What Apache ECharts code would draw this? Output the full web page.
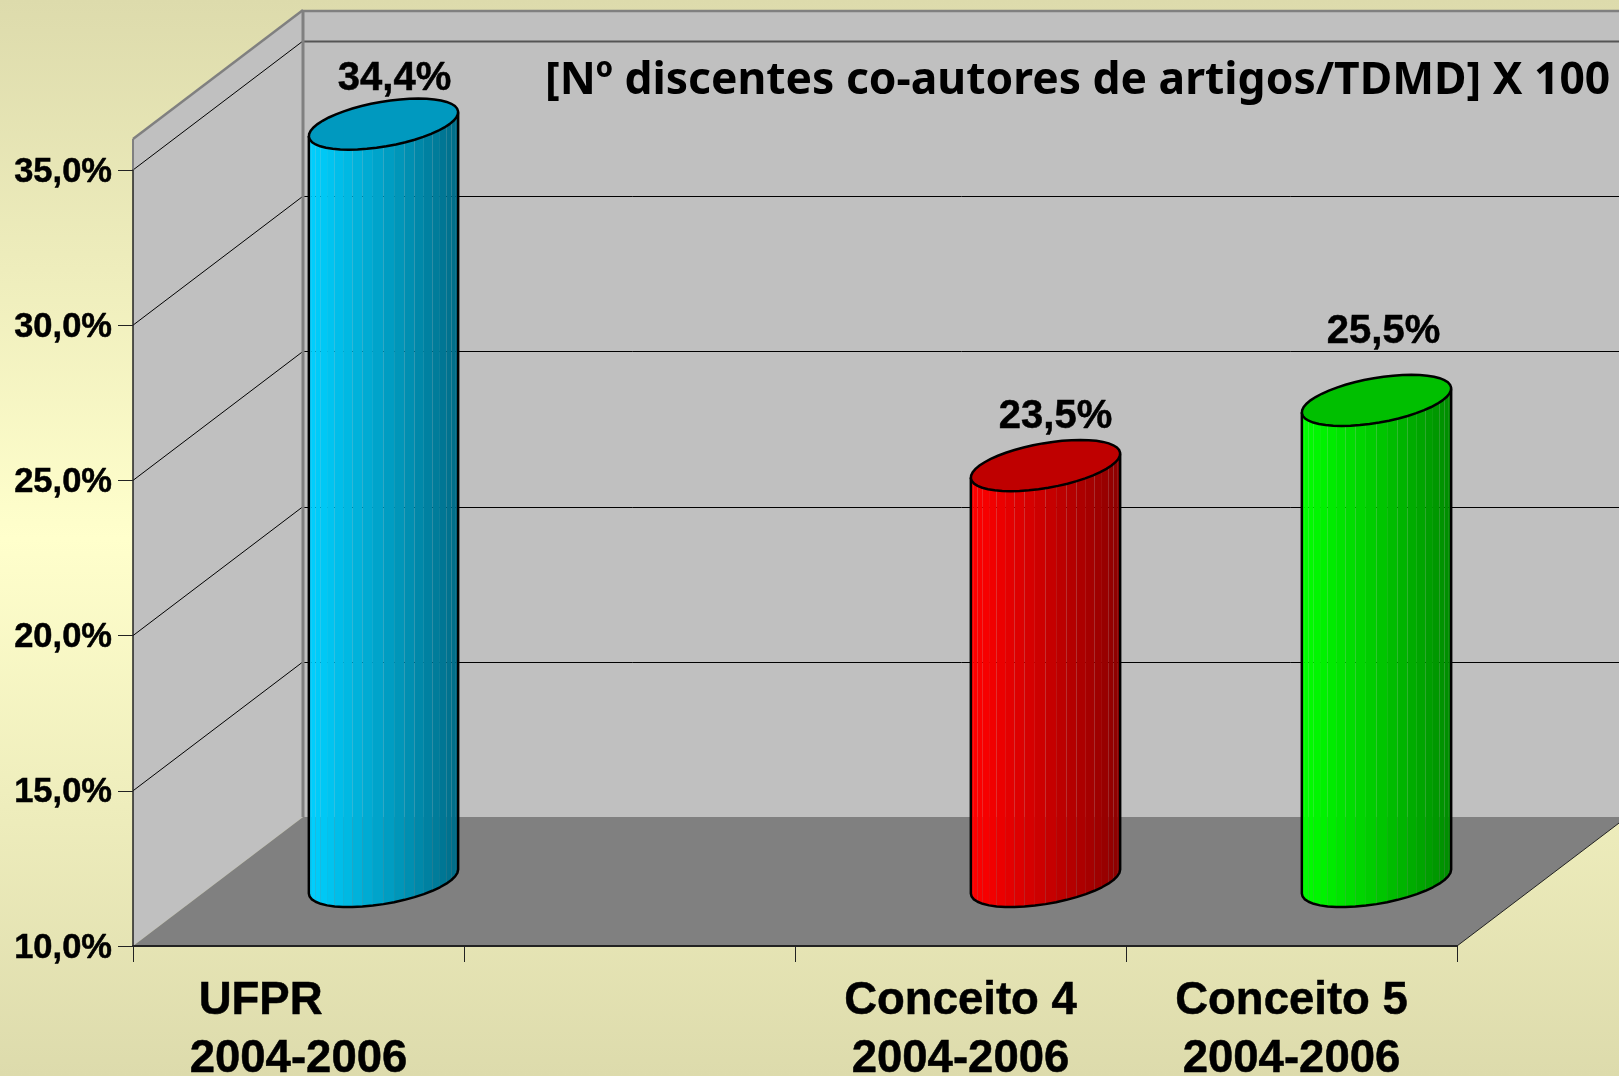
<!DOCTYPE html>
<html><head><meta charset="utf-8">
<style>html,body{margin:0;padding:0;background:#eee}#c{width:1619px;height:1076px}</style>
<script src="https://cdn.jsdelivr.net/npm/echarts@6/dist/echarts.min.js"></script>
</head><body><div id="c"></div>
<script>
const categories = ['UFPR      \n2004-2006', '', 'Conceito 4\n2004-2006', 'Conceito 5\n2004-2006'];
const barValues = [34.4, null, 23.4, 25.5];
const valueLabels = ['34,4%', '', '23,5%', '25,5%'];
const wallLines = [15, 20, 25, 30, 35];
const chartTitle = '[Nº discentes co-autores de artigos/TDMD] X 100';
const yMin = 10, yMax = 35, yStep = 5, wallTop = 36;

const palette = [
  {l:[0,208,255], r:[0,106,133], cap:'#0099BF'},
  null,
  {l:[255,0,0], r:[138,0,0], cap:'#BF0000'},
  {l:[0,255,0], r:[0,138,0], cap:'#00BF00'}
];
const labelNudge = [[11,-45], null, [10,-49], [7,-68]];
const DX = 170, DY = 129;      // depth of the 3-D box in px
const A = 66, S = 34.9, H = 25.6; // cylinder ellipse shape

function renderBox(params, api){
  const cs = params.coordSys;
  const xL = cs.x, xR = cs.x + cs.width;
  const y = v => api.coord([0, v])[1];
  const y0 = y(yMin), yT = y(wallTop);
  const poly = (pts, fill) => ({type:'polygon', shape:{points:pts}, style:{fill, stroke:null}, silent:true});
  const line = (x1,y1,x2,y2,c,w) => ({type:'line', shape:{x1,y1,x2,y2}, style:{stroke:c, lineWidth:w}, silent:true});
  const ch = [
    poly([[xL+DX,yT-DY],[xR+DX,yT-DY],[xR+DX,y0-DY],[xL+DX,y0-DY]], '#C0C0C0'),
    poly([[xL,yT],[xL+DX,yT-DY],[xL+DX,y0-DY],[xL,y0]], '#C0C0C0'),
    poly([[xL,y0],[xR,y0],[xR+DX,y0-DY],[xL+DX,y0-DY]], '#808080')
  ];
  wallLines.forEach(v => {
    const yy = y(v);
    const top = v === yMax;
    const yb = Math.round(yy-DY)+0.5;
    ch.push(line(xL+DX, yb, xR+DX, yb, top ? '#555' : '#000', top ? 2 : 1));
    ch.push(line(xL, yy, xL+DX, yy-DY, '#000', 1));
  });
  ch.push(line(xL, yT, xL, y(yMax), '#808080', 2));
  ch.push(line(xL, yT, xL+DX, yT-DY, '#808080', 2.5));
  ch.push(line(xL+DX, yT-DY+1, xR+DX, yT-DY+1, '#808080', 2.5));
  ch.push(line(xL+DX, yT-DY, xL+DX, y0-DY, '#808080', 3));
  ch.push(line(xR, y0, xR+DX, y0-DY, '#222', 1));
  return {type:'group', children:ch};
}

function renderCylinder(params, api){
  const i = api.value(0), v = api.value(1);
  const pTop = api.coord([i, v]), pBase = api.coord([i, yMin]);
  const cx = pTop[0] + DX/2;
  const cyT = pTop[1] - DY/2, cyB = pBase[1] - DY/2;
  const R = Math.sqrt(A*A + S*S);
  const t0 = Math.atan2(S, A);
  const px = t => cx + A*Math.cos(t) + S*Math.sin(t);
  const py = t => -H*Math.sin(t);
  const col = palette[i];
  const ch = [];
  const n = 22;
  const ts = [];
  for (let k=0;k<=n;k++) ts.push(t0 + Math.PI + Math.PI*k/n);
  for (let k=0;k<n;k++){
    const a = ts[k], b = ts[k+1];
    const f = (px(a) - (cx-R)) / (2*R);
    const c = col.l.map((q,j)=>Math.round(q+(col.r[j]-q)*f));
    ch.push({type:'polygon', silent:true,
      shape:{points:[[px(a),cyT+py(a)],[px(b),cyT+py(b)],[px(b),cyB+py(b)],[px(a),cyB+py(a)]]},
      style:{fill:'rgb('+c.join(',')+')'}});
  }
  const outline = [[px(ts[0]),cyT+py(ts[0])]];
  ts.forEach(t => outline.push([px(t),cyB+py(t)]));
  outline.push([px(ts[n]),cyT+py(ts[n])]);
  ch.push({type:'polyline', silent:true, shape:{points:outline},
    style:{stroke:'#000', lineWidth:2.5, fill:null, lineJoin:'round'}});
  const capPts = [];
  for (let k=0;k<48;k++){ const t=2*Math.PI*k/48; capPts.push([px(t),cyT+py(t)]); }
  ch.push({type:'polygon', silent:true, shape:{points:capPts},
    style:{fill:col.cap, stroke:'#000', lineWidth:2.5}});
  const nudge = labelNudge[i];
  ch.push({type:'text', silent:true, style:{
    text:valueLabels[i], x:cx+nudge[0], y:cyT+nudge[1],
    fill:'#000', stroke:'#000', lineWidth:0.5, font:'bold 40px "Liberation Sans", Arial, sans-serif',
    textAlign:'center', textVerticalAlign:'middle'}});
  return {type:'group', children:ch};
}

const chart = echarts.init(document.getElementById('c'), null, {renderer:'canvas'});
chart.setOption({
  animation:false,
  backgroundColor:{type:'linear', x:0,y:0,x2:0,y2:1, colorStops:[
    {offset:0,color:'#DDDBAC'},{offset:0.5,color:'#FFFFCC'},{offset:1,color:'#DDDBAC'}]},
  title:{text:chartTitle, left:545, top:59, itemGap:0, padding:0,
    textStyle:{fontFamily:'"Noto Sans"', fontWeight:'bold', fontSize:44.4, color:'#000'}, z:30},
  grid:{left:133, right:162, top:170, bottom:130, containLabel:false, outerBoundsMode:'none'},
  xAxis:{type:'category', data:categories, z:10,
    axisLine:{show:true, lineStyle:{color:'#222', width:2}},
    axisTick:{show:true, length:16, alignWithLabel:false, lineStyle:{color:'#222', width:1}},
    axisLabel:{interval:0, margin:27, lineHeight:57.5, fontFamily:'"Liberation Sans"', fontWeight:'bold', fontSize:45.5, color:'#000', hideOverlap:false,
      textBorderColor:'#000', textBorderWidth:0.5}
  },
  yAxis:{type:'value', min:yMin, max:yMax, interval:yStep, z:10,
    splitLine:{show:false},
    axisLine:{show:true, lineStyle:{color:'#222', width:1.5}},
    axisTick:{show:true, length:15, lineStyle:{color:'#222', width:1}},
    axisLabel:{margin:21, verticalAlign:'top', lineHeight:4, fontFamily:'"Liberation Sans"', fontWeight:'bold', fontSize:34.5, color:'#000',
      textBorderColor:'#000', textBorderWidth:0.5,
      formatter:v=>v.toFixed(1).replace('.',',')+'%'}
  },
  series:[
    {type:'custom', z:1, clip:false, silent:true, renderItem:renderBox, data:[[0,yMin]]},
    {type:'custom', z:5, clip:false, silent:true, renderItem:renderCylinder,
     data:barValues.map((v,i)=>[i,v]).filter(d=>d[1]!==null)}
  ]
});
</script></body></html>
